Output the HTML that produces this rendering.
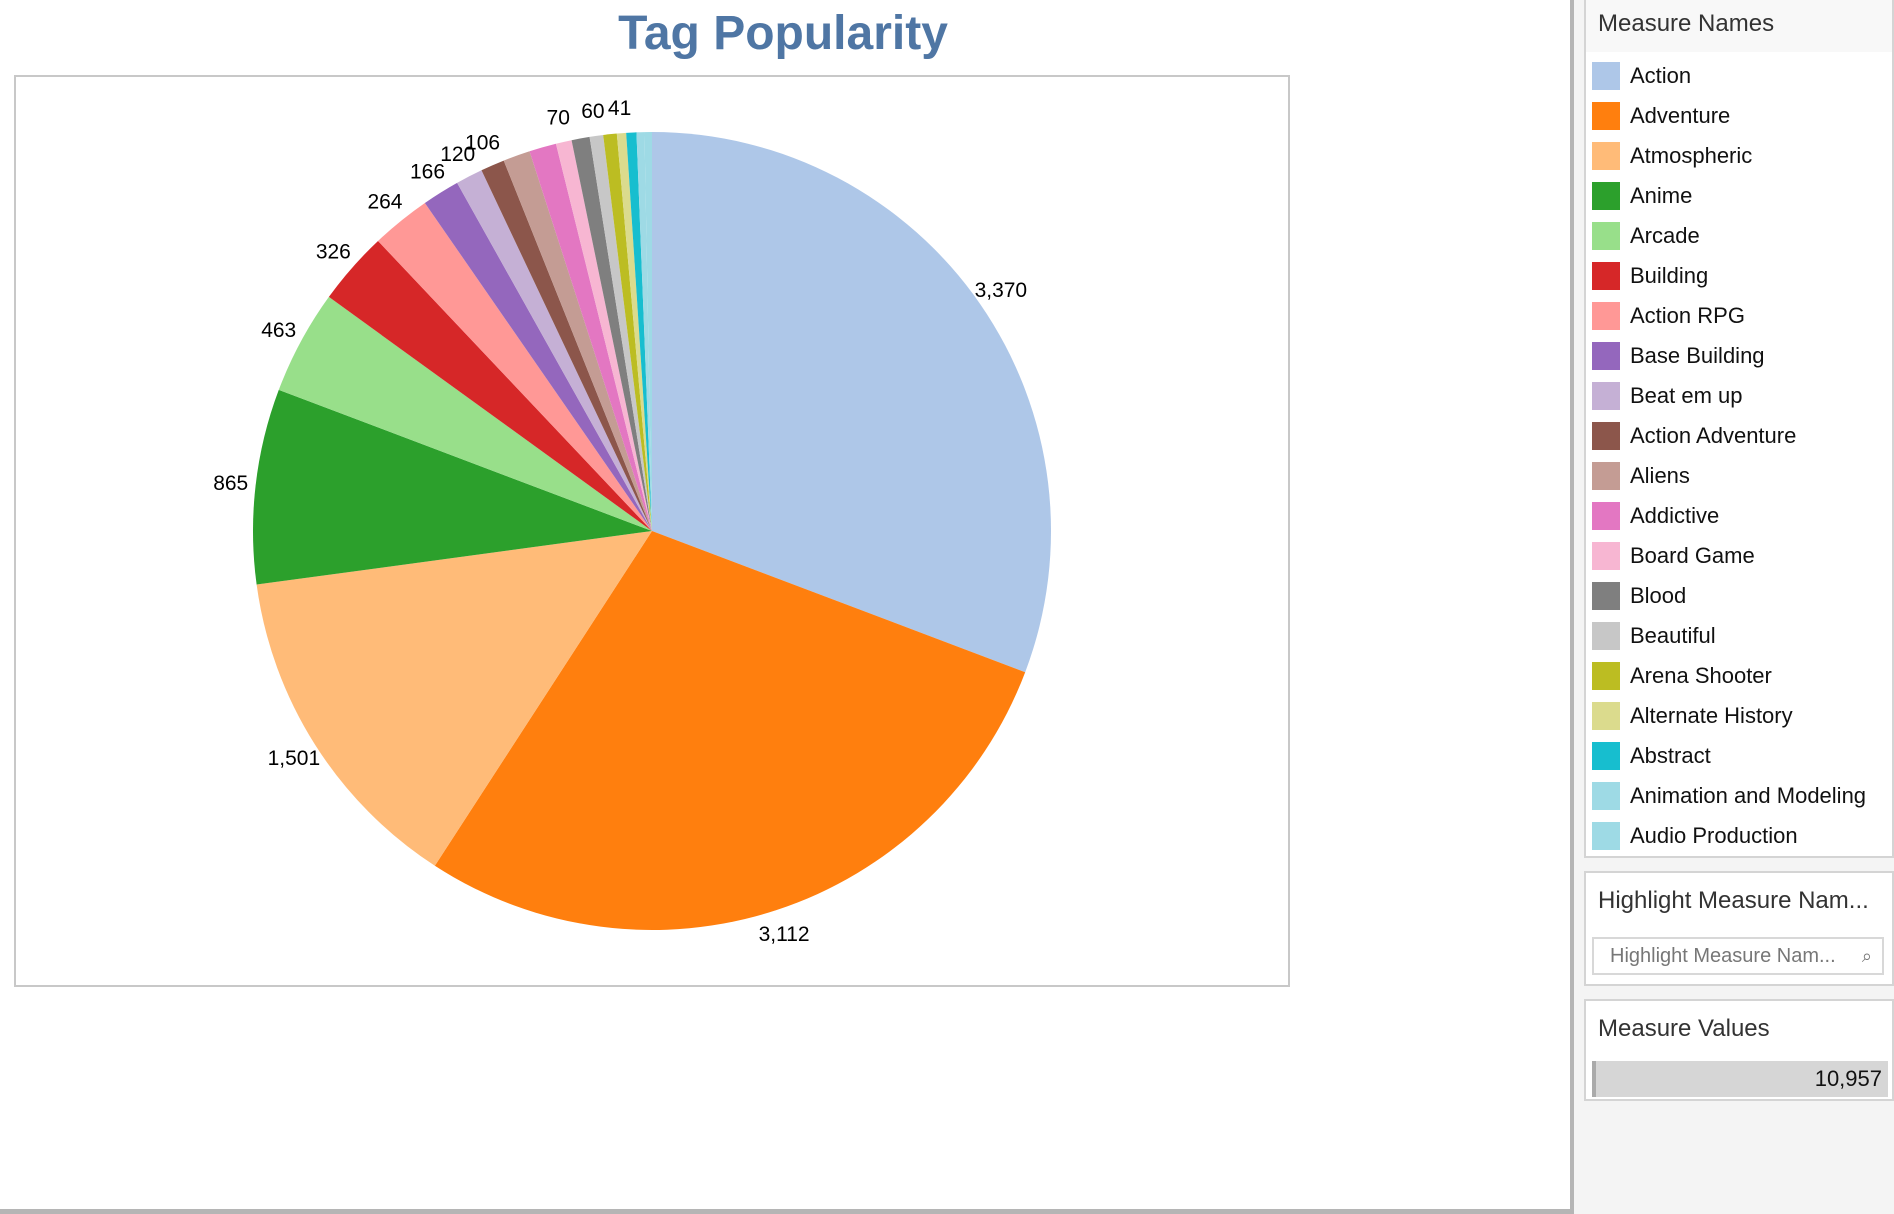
<!DOCTYPE html>
<html><head><meta charset="utf-8"><style>
body{margin:0;width:1894px;height:1214px;overflow:hidden;background:#fff;font-family:"Liberation Sans",sans-serif;position:relative}
.abs{position:absolute}
#panel{left:1570px;top:0;width:324px;height:1214px;background:#f4f4f4;border-left:4px solid #b5b5b5;box-sizing:border-box}
.box{position:absolute;background:#fff;border:2px solid #d4d4d4;box-sizing:border-box}
.hdr{font-size:24px;color:#333;position:absolute;left:12px}
.item{position:absolute;left:6px;height:28px;font-size:22px;color:#111;line-height:28px}
.sw{display:inline-block;width:28px;height:28px;vertical-align:top;margin-right:10px}
</style></head><body>
<div class="abs" style="left:0;width:1566px;top:6px;text-align:center;font-size:48px;font-weight:bold;color:#4f76a4">Tag Popularity</div>
<div class="abs" style="left:14px;top:75px;width:1276px;height:912px;border:2px solid #c8c8c8;box-sizing:border-box"></div>
<div class="abs" style="left:0;top:1209px;width:1570px;height:5px;background:#b5b5b5"></div>
<svg class="abs" id="pie" style="left:0;top:0" width="1570" height="1214"></svg>
<div class="abs" id="panel">
 <div class="box" style="left:10px;top:-2px;width:310px;height:860px;">
  <div style="position:absolute;left:0;top:0;width:100%;height:52px;background:#f8f8f8"></div>
  <div class="hdr" style="top:10px">Measure Names</div>
  <div id="legend-items"></div>
 </div>
 <div class="box" style="left:10px;top:871px;width:310px;height:115px">
  <div class="hdr" style="top:14px">Highlight Measure Nam...</div>
  <div style="position:absolute;left:6px;top:64px;width:292px;height:38px;border:2px solid #d8d8d8;box-sizing:border-box;background:#fff;font-size:20px;color:#777;line-height:34px;padding-left:16px">Highlight Measure Nam...<span style="position:absolute;right:10px;top:0;font-size:18px">⌕</span></div>
 </div>
 <div class="box" style="left:10px;top:999px;width:310px;height:102px">
  <div class="hdr" style="top:14px">Measure Values</div>
  <div style="position:absolute;left:6px;top:60px;width:296px;height:36px;background:#d6d6d6;border-left:4px solid #aaa;box-sizing:border-box;text-align:right;font-size:22px;line-height:36px;padding-right:6px;color:#111">10,957</div>
 </div>
</div>
<script>
const categories=["Action","Adventure","Atmospheric","Anime","Arcade","Building","Action RPG","Base Building","Beat em up","Action Adventure","Aliens","Addictive","Board Game","Blood","Beautiful","Arena Shooter","Alternate History","Abstract","Animation and Modeling","Audio Production"];
const values=[3370,3112,1501,865,463,326,264,166,120,106,120,120,70,80,60,60,41,45,35,33];
const colors=["#aec7e8","#ff7f0e","#ffbb78","#2ca02c","#98df8a","#d62728","#ff9896","#9467bd","#c5b0d5","#8c564b","#c49c94","#e377c2","#f7b6d2","#7f7f7f","#c7c7c7","#bcbd22","#dbdb8d","#17becf","#9edae5","#9edae5"];
const labeled=[true,true,true,true,true,true,true,true,true,true,false,false,true,false,true,false,true,false,false,false];
const NS="http://www.w3.org/2000/svg";
const svg=document.getElementById('pie');
const cx=652,cy=531,r=399,lr=424;
const total=values.reduce((a,b)=>a+b,0);
function pt(a,rad){return [cx+rad*Math.sin(a),cy-rad*Math.cos(a)];}
let a0=0;
values.forEach((v,i)=>{
  const a1=a0+v/total*2*Math.PI;
  const p0=pt(a0,r),p1=pt(a1,r);
  const path=document.createElementNS(NS,'path');
  path.setAttribute('d',`M${cx},${cy}L${p0[0]},${p0[1]}A${r},${r} 0 ${a1-a0>Math.PI?1:0} 1 ${p1[0]},${p1[1]}Z`);
  path.setAttribute('fill',colors[i]);
  
  
  svg.appendChild(path);
  if(labeled[i]){
    const m=(a0+a1)/2,lp=pt(m,lr);
    const t=document.createElementNS(NS,'text');
    t.setAttribute('x',lp[0]);t.setAttribute('y',lp[1]+7);
    t.setAttribute('text-anchor','middle');
    t.setAttribute('font-size','21');
    t.setAttribute('font-family','Liberation Sans, sans-serif');
    t.textContent=v.toLocaleString('en-US');
    
    
    svg.appendChild(t);
  }
  a0=a1;
});
const li=document.getElementById('legend-items');
categories.forEach((c,i)=>{
  const d=document.createElement('div');
  d.className='item';d.style.top=(62+i*40)+'px';
  d.innerHTML=`<span class="sw" style="background:${colors[i]}"></span>${c}`;
  
  
  li.appendChild(d);
});
</script>
</body></html>
